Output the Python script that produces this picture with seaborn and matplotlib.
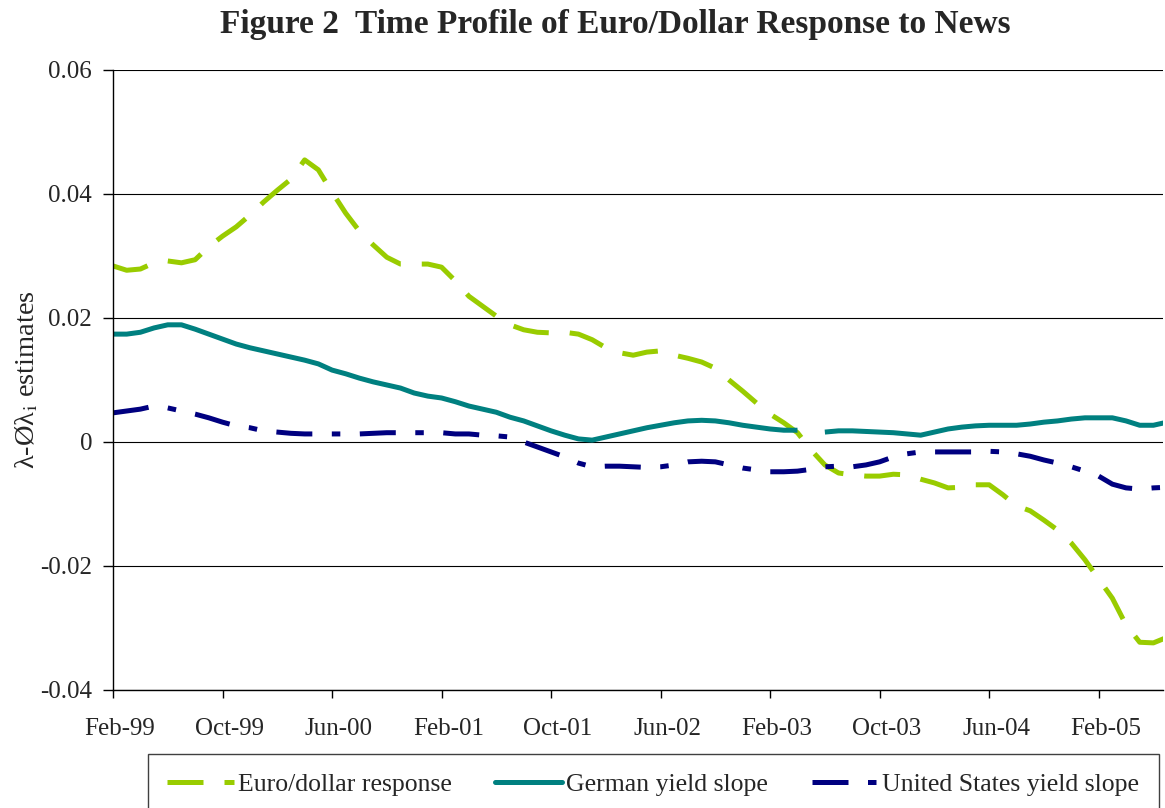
import pandas as pd
import seaborn as sns
import matplotlib.pyplot as plt
import matplotlib.transforms as mtransforms
from matplotlib.lines import Line2D
import numpy as np

# Données mensuelles : Feb-99 -> Jul-05
months = pd.date_range("1999-02-01", "2005-07-01", freq="MS")

euro_dollar = [
    0.0284, 0.0277, 0.0279, 0.0289, 0.0292, 0.0289, 0.0294, 0.0315, 0.0332, 0.0347,
    0.0366, 0.0387, 0.0406, 0.0424, 0.0455, 0.0439, 0.0403, 0.0369, 0.0340, 0.0318,
    0.0298, 0.0287, 0.0287, 0.0287, 0.0282, 0.0260, 0.0235, 0.0219, 0.0203, 0.0189,
    0.0181, 0.0177, 0.0176, 0.0177, 0.0174, 0.0165, 0.0152, 0.0144, 0.0140, 0.0145,
    0.0147, 0.0140, 0.0135, 0.0129, 0.0119, 0.0100, 0.0082, 0.0063, 0.0045, 0.0031,
    0.0015, -0.0013, -0.0037, -0.0050, -0.0053, -0.0055, -0.0055, -0.0052, -0.0053, -0.0060,
    -0.0066, -0.0074, -0.0073, -0.0069, -0.0069, -0.0085, -0.0103, -0.0111, -0.0126, -0.0142,
    -0.0163, -0.0190, -0.0221, -0.0252, -0.0295, -0.0323, -0.0324, -0.0315,
]

german_slope = [
    0.0174, 0.0174, 0.0177, 0.0184, 0.0189, 0.0189, 0.0182, 0.0174, 0.0166, 0.0158,
    0.0152, 0.0147, 0.0142, 0.0137, 0.0132, 0.0126, 0.0116, 0.0110, 0.0103, 0.0097,
    0.0092, 0.0087, 0.0079, 0.0074, 0.0071, 0.0065, 0.0058, 0.0053, 0.0048, 0.0040,
    0.0034, 0.0026, 0.0018, 0.0011, 0.0005, 0.0003, 0.0008, 0.0013, 0.0018, 0.0023,
    0.0027, 0.0031, 0.0034, 0.0035, 0.0034, 0.0031, 0.0027, 0.0024, 0.0021, 0.0019,
    0.0019, np.nan, 0.0016, 0.0018, 0.0018, 0.0017, 0.0016, 0.0015, 0.0013, 0.0011,
    0.0016, 0.0021, 0.0024, 0.0026, 0.0027, 0.0027, 0.0027, 0.0029, 0.0032, 0.0034,
    0.0037, 0.0039, 0.0039, 0.0039, 0.0034, 0.0027, 0.0027, 0.0032,
]

us_slope = [
    0.0047, 0.0050, 0.0053, 0.0058, 0.0055, 0.0050, 0.0045, 0.0039, 0.0032, 0.0026,
    0.0023, 0.0018, 0.0016, 0.0014, 0.0013, 0.0013, 0.0013, 0.0013, 0.0013, 0.0014,
    0.0015, 0.0015, 0.0015, 0.0015, 0.0015, 0.0013, 0.0013, 0.0011, 0.0010, 0.0008,
    0.0000, -0.0008, -0.0016, -0.0024, -0.0034, -0.0040, -0.0039, -0.0039, -0.0040, -0.0041,
    -0.0040, -0.0037, -0.0032, -0.0031, -0.0032, -0.0037, -0.0042, -0.0045, -0.0048, -0.0048,
    -0.0047, -0.0044, -0.0040, -0.0039, -0.0040, -0.0037, -0.0032, -0.0024, -0.0019, -0.0016,
    -0.0016, -0.0016, -0.0016, -0.0016, -0.0015, -0.0016, -0.0019, -0.0023, -0.0029, -0.0034,
    -0.0040, -0.0047, -0.0055, -0.0068, -0.0074, -0.0076, -0.0074, -0.0073,
]

x_tick_labels = ["Feb-99", "Oct-99", "Jun-00", "Feb-01", "Oct-01",
                 "Jun-02", "Feb-03", "Oct-03", "Jun-04", "Feb-05"]
y_ticks = [-0.04, -0.02, 0.0, 0.02, 0.04, 0.06]
y_tick_labels = ["-0.04", "-0.02", "0", "0.02", "0.04", "0.06"]

series_labels = ["Euro/dollar response", "German yield slope", "United States yield slope"]

df = pd.DataFrame({
    "t": np.arange(len(months)),
    "euro": euro_dollar,
    "german": german_slope,
    "us": us_slope,
})
# segments pour garder le trou de la série allemande
df["seg"] = df["german"].isna().cumsum()

# Style
COLOR_GREEN = "#99CC00"
COLOR_TEAL = "#008080"
COLOR_NAVY = "#000080"
LW = 3.6
LS_EURO = (0, (7.2, 4.2))
LS_US = (0, (7.2, 3.9, 1.7, 3.9))

sns.set_theme(style="ticks")
plt.rcParams["font.family"] = ["Liberation Serif", "DejaVu Serif"]
plt.rcParams["mathtext.fontset"] = "stix"
plt.rcParams["axes.unicode_minus"] = False

fig, ax = plt.subplots(figsize=(11.65, 8.08), dpi=100)
fig.subplots_adjust(left=113 / 1165, right=1163 / 1165, bottom=1 - 690 / 808, top=1 - 70 / 808)

sns.lineplot(data=df, x="t", y="euro", color=COLOR_GREEN, linewidth=LW,
             linestyle=LS_EURO, ax=ax)
sns.lineplot(data=df, x="t", y="german", units="seg", estimator=None,
             color=COLOR_TEAL, linewidth=LW, ax=ax)
sns.lineplot(data=df, x="t", y="us", color=COLOR_NAVY, linewidth=LW,
             linestyle=LS_US, ax=ax)
for line in ax.get_lines():
    line.set_solid_capstyle("butt")
    line.set_dash_capstyle("butt")

ax.set_xlim(0, 76.7)
ax.set_ylim(-0.04, 0.06)
ax.set_xticks(np.arange(0, len(months), 8)[:len(x_tick_labels)], x_tick_labels)
ax.set_yticks(y_ticks, y_tick_labels)
ax.yaxis.grid(True, color="black", linewidth=0.8)
ax.set_axisbelow(True)

ax.tick_params(axis="y", length=7, width=1, pad=8, labelsize=18, color="black")
ax.tick_params(axis="x", length=5.5, width=1, pad=15, labelsize=18, color="black")
# les étiquettes de dates sont un peu décalées à droite des graduations
shift = mtransforms.ScaledTranslation(5 / 72, 0, fig.dpi_scale_trans)
for lab in ax.get_xticklabels():
    lab.set_transform(lab.get_transform() + shift)
for s in ["left", "bottom"]:
    ax.spines[s].set_color("black")
    ax.spines[s].set_linewidth(1)
sns.despine(ax=ax)

ax.set_xlabel("")
ax.set_ylabel(r"λ-Øλ$_\mathrm{i}$ estimates", fontsize=20.5, labelpad=-0.5)

fig.text(615 / 1165, 1 - 33 / 808, "Figure 2  Time Profile of Euro/Dollar Response to News",
         ha="center", va="baseline", fontsize=24, fontweight="bold")

handles = [
    Line2D([], [], color=COLOR_GREEN, lw=LW, linestyle=LS_EURO, dash_capstyle="butt"),
    Line2D([], [], color=COLOR_TEAL, lw=LW),
    Line2D([], [], color=COLOR_NAVY, lw=LW, linestyle=LS_US, dash_capstyle="butt"),
]
leg = fig.legend(handles, series_labels, loc="upper left",
                 bbox_to_anchor=(148 / 1165, 1 - 754 / 808), borderaxespad=0,
                 ncol=3, fontsize=18.5,
                 frameon=True, fancybox=False, framealpha=1, edgecolor="#404040",
                 handlelength=2.6, handletextpad=0.15, columnspacing=1.7, borderpad=0.75)
leg.get_frame().set_linewidth(1)

fig.savefig("out.png", dpi=100)
